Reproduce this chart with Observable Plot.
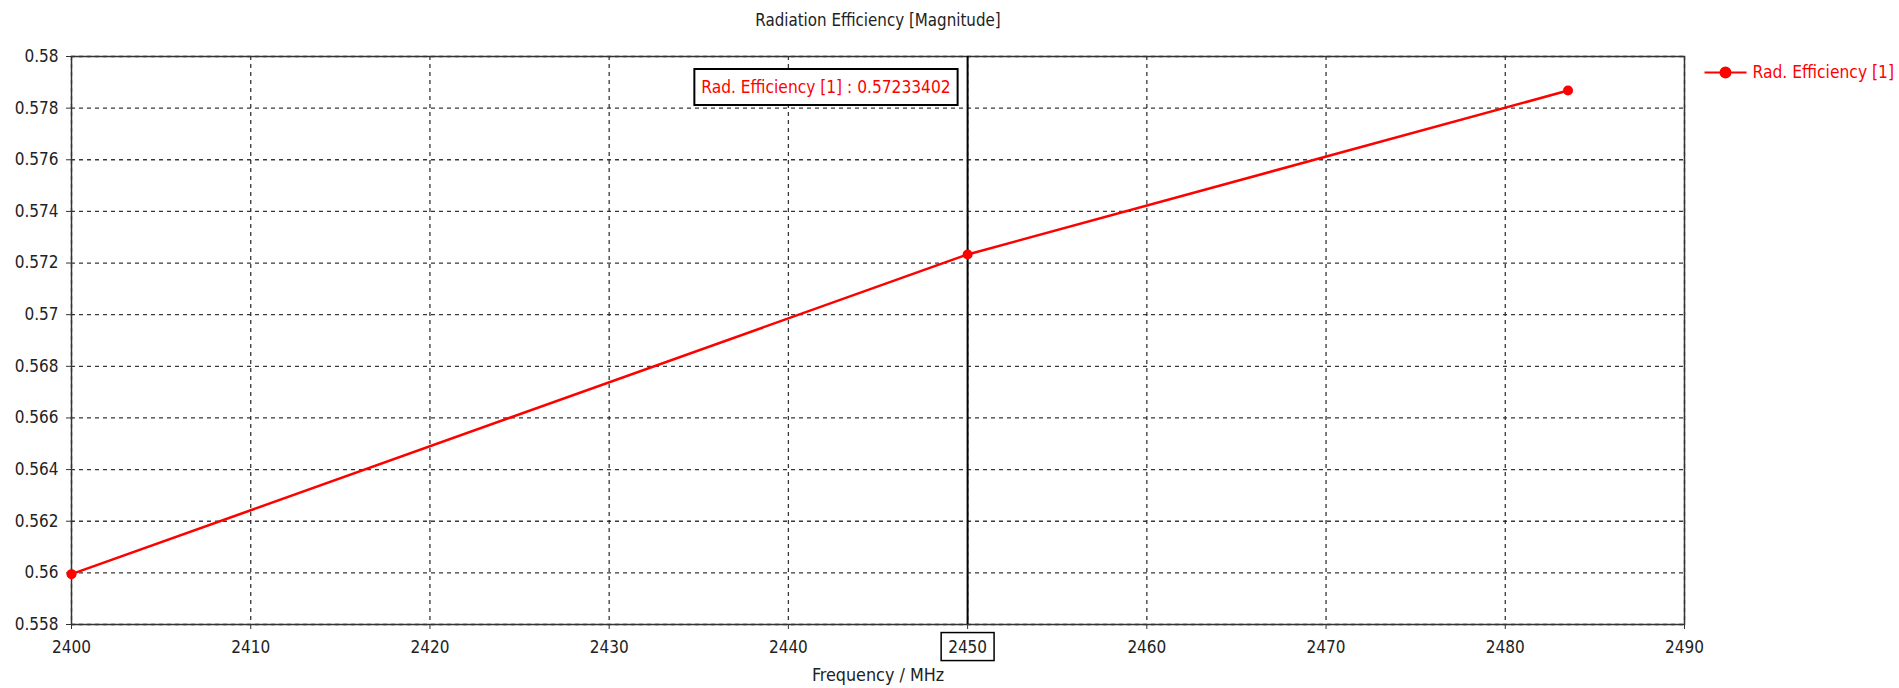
<!DOCTYPE html>
<html>
<head>
<meta charset="utf-8">
<script src="https://cdn.jsdelivr.net/npm/d3@7"></script>
<script src="https://cdn.jsdelivr.net/npm/@observablehq/plot@0.6"></script>
<style>
  html, body { margin: 0; padding: 0; background: #fff; }
  svg { font-family: "DejaVu Sans Condensed", "DejaVu Sans", sans-serif; }
</style>
</head>
<body>
<div id="chart"></div>
<script>
// ---- data ----
const freqs = [2400, 2450, 2483.5];
const radEff = [0.55995, 0.57233402, 0.57868];
const xTicks = [2400, 2410, 2420, 2430, 2440, 2450, 2460, 2470, 2480, 2490];
const yTicks = [0.558, 0.56, 0.562, 0.564, 0.566, 0.568, 0.57, 0.572, 0.574, 0.576, 0.578, 0.58];
const seriesName = "Rad. Efficiency [1]";
const cursorFreq = 2450;
const cursorValue = 0.57233402;
const titleText = "Radiation Efficiency [Magnitude]";
const xLabelText = "Frequency / MHz";

const data = freqs.map((f, i) => ({ f, v: radEff[i] }));
const RED = "#ff0000";
const FONT = "DejaVu Sans Condensed, DejaVu Sans, sans-serif";

// legend symbol: line with dot
const legendSymbol = {
  draw(context, size) {
    const r = Math.sqrt(size / Math.PI);
    context.moveTo(-21, 0);
    context.lineTo(21, 0);
    context.moveTo(r, 0);
    context.arc(0, 0, r, 0, 2 * Math.PI);
  }
};

const chart = Plot.plot({
  width: 1899,
  height: 688,
  marginLeft: 71,
  marginRight: 215,
  marginTop: 56,
  marginBottom: 64,
  style: { fontFamily: FONT, fontSize: "17px", color: "#222", background: "#fff" },
  x: { domain: [2400, 2490], ticks: xTicks, label: null },
  y: { domain: [0.558, 0.58], ticks: yTicks, label: null },
  marks: [
    Plot.gridX(xTicks, { stroke: "#222", strokeOpacity: 0.9, strokeDasharray: "4,4", strokeWidth: 1.3 }),
    Plot.gridY(yTicks, { stroke: "#222", strokeOpacity: 0.9, strokeDasharray: "4,4", strokeWidth: 1.3 }),
    Plot.frame({ stroke: "#333", strokeWidth: 1.5 }),
    Plot.axisX(xTicks, { tickSize: 5, tickPadding: 11, fontSize: 17, stroke: "#333",
      tickFormat: d => String(d), className: "xaxis" }),
    Plot.axisY(yTicks, { tickSize: 5, tickPadding: 8, fontSize: 17, stroke: "#333",
      tickFormat: d => String(+d.toFixed(3)) }),
    Plot.ruleX([cursorFreq], { stroke: "#000", strokeWidth: 2 }),
    Plot.line(data, { x: "f", y: "v", stroke: RED, strokeWidth: 2.5 }),
    Plot.dot(data, { x: "f", y: "v", fill: RED, r: 5 }),
    // cursor label
    Plot.text([`${seriesName} : ${cursorValue.toFixed(8)}`], {
      x: cursorFreq, frameAnchor: "top", lineAnchor: "middle", dy: 31, dx: -17, textAnchor: "end",
      fill: RED, fontSize: 17.2, className: "boxed"
    }),
    // title
    Plot.text([titleText], { frameAnchor: "top", lineAnchor: "middle", dy: -36, fontSize: 16.8, fill: "#222" }),
    // x axis label
    Plot.text([xLabelText], { frameAnchor: "bottom", lineAnchor: "middle", dy: 51, fontSize: 17.8, fill: "#222" }),
    // legend
    Plot.dot([seriesName], { frameAnchor: "top-right", dx: 41, dy: 16, symbol: legendSymbol,
      r: 5, fill: RED, stroke: RED, strokeWidth: 2 }),
    Plot.text([seriesName], { frameAnchor: "top-right", lineAnchor: "middle", dx: 68, dy: 16, textAnchor: "start",
      fill: RED, fontSize: 17.3 })
  ]
});
document.getElementById("chart").appendChild(chart);

// draw boxes around the cursor label and the cursor tick label
function boxAround(el, padX, padY, strokeW) {
  const b = el.getBBox();
  const rect = document.createElementNS("http://www.w3.org/2000/svg", "rect");
  rect.setAttribute("x", b.x - padX);
  rect.setAttribute("y", b.y - padY);
  rect.setAttribute("width", b.width + 2 * padX);
  rect.setAttribute("height", b.height + 2 * padY);
  const tr = el.getAttribute("transform");
  if (tr) rect.setAttribute("transform", tr);
  rect.setAttribute("fill", "#fff");
  rect.setAttribute("stroke", "#000");
  rect.setAttribute("stroke-width", strokeW);
  el.parentNode.insertBefore(rect, el);
}
chart.querySelectorAll(".boxed text").forEach(t => boxAround(t, 7, 8, 2));
chart.querySelectorAll(".xaxis text").forEach(t => {
  if (t.textContent === String(cursorFreq)) boxAround(t, 7, 4, 1.5);
});
</script>
</body>
</html>
